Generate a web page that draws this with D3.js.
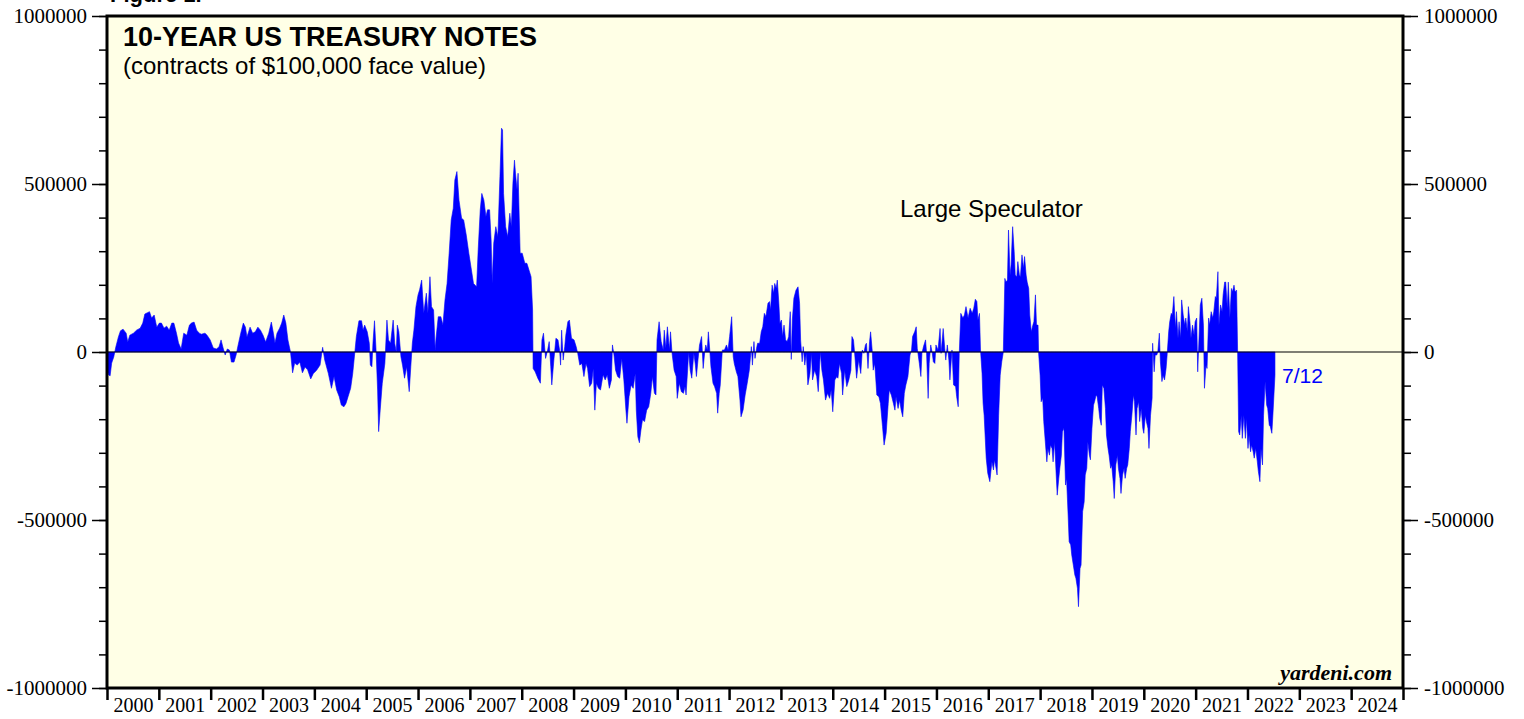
<!DOCTYPE html>
<html>
<head>
<meta charset="utf-8" />
<script src="https://d3js.org/d3.v7.min.js"></script>
<style>
  body { margin: 0; background: #ffffff; }
  svg { display: block; }
  .ylab { font: 21px "Liberation Serif", "Times New Roman", serif; fill: #000; }
  .xlab { font: 20px "Liberation Serif", "Times New Roman", serif; fill: #000; }
</style>
</head>
<body>
<svg id="chart" width="1524" height="719"></svg>
<script>
var dates = [
  2000.01,2000.03,2000.06,2000.09,2000.13,2000.17,2000.22,2000.26,2000.31,2000.37,2000.40,2000.44,2000.51,2000.57,2000.64,2000.69,2000.73,2000.78,2000.82,2000.86,2000.91,2000.96,
  2001.01,2001.05,2001.10,2001.15,2001.20,2001.25,2001.29,2001.34,2001.38,2001.43,2001.48,2001.54,2001.59,2001.63,2001.68,2001.73,2001.78,2001.82,2001.89,2001.93,2001.99,
  2002.05,2002.11,2002.16,2002.20,2002.24,2002.28,2002.32,2002.36,2002.40,2002.45,2002.49,2002.53,2002.58,2002.63,2002.67,2002.70,2002.76,2002.81,2002.86,2002.91,2002.96,
  2003.01,2003.06,2003.12,2003.17,2003.21,2003.24,2003.28,2003.33,2003.37,2003.41,2003.45,2003.49,2003.54,2003.58,2003.62,2003.67,2003.72,2003.77,2003.82,2003.87,2003.93,2003.98,2004.04,
  2004.11,2004.16,2004.20,2004.27,2004.33,2004.38,2004.43,2004.48,2004.52,2004.57,2004.61,2004.65,2004.70,2004.74,2004.78,2004.81,2004.86,2004.91,2004.94,2004.97,
  2005.02,2005.06,2005.08,2005.11,2005.13,2005.16,2005.19,2005.22,2005.24,2005.27,2005.31,2005.36,2005.40,2005.43,2005.47,2005.52,2005.55,2005.58,2005.60,2005.63,2005.67,2005.70,2005.74,2005.78,2005.83,2005.86,2005.89,2005.92,2005.96,
  2006.00,2006.03,2006.07,2006.11,2006.16,2006.19,2006.23,2006.26,2006.30,2006.33,2006.35,2006.39,2006.44,2006.48,2006.52,2006.56,2006.60,2006.64,2006.68,2006.71,2006.75,2006.79,2006.84,2006.88,2006.93,2006.98,
  2007.03,2007.07,2007.13,2007.16,2007.20,2007.23,2007.27,2007.31,2007.34,2007.38,2007.41,2007.43,2007.46,2007.50,2007.54,2007.58,2007.61,2007.63,2007.65,2007.69,2007.73,2007.77,2007.80,2007.83,2007.86,2007.88,2007.91,2007.93,2007.97,
  2008.01,2008.06,2008.10,2008.14,2008.18,2008.21,
  2008.22,2008.26,2008.31,2008.36,2008.39,2008.42,2008.46,2008.50,2008.53,2008.56,2008.58,2008.62,2008.66,2008.70,2008.73,2008.75,2008.77,2008.80,2008.83,2008.85,2008.89,2008.92,2008.96,
  2009.01,2009.05,2009.08,2009.12,2009.16,2009.20,2009.24,2009.27,2009.31,2009.35,2009.38,2009.41,2009.44,2009.48,2009.52,2009.57,2009.61,2009.65,2009.69,2009.73,2009.75,2009.78,2009.81,2009.85,2009.89,2009.93,2009.97,
  2010.01,2010.03,2010.07,2010.11,2010.15,2010.19,2010.21,2010.24,2010.27,2010.30,2010.33,2010.37,2010.41,2010.45,2010.49,2010.52,2010.56,2010.59,2010.61,2010.65,2010.69,2010.73,2010.75,2010.78,2010.81,2010.85,2010.87,2010.90,2010.94,2010.98,
  2011.00,2011.04,2011.08,2011.12,2011.15,2011.17,2011.20,2011.22,2011.25,2011.28,2011.32,2011.35,2011.37,2011.40,2011.43,2011.47,2011.50,2011.53,2011.55,2011.58,2011.60,2011.63,2011.65,2011.69,2011.72,2011.76,2011.78,2011.81,2011.83,2011.87,2011.91,2011.95,2011.98,
  2012.01,2012.05,2012.08,2012.10,2012.14,2012.17,2012.21,2012.23,2012.27,2012.31,2012.35,2012.39,2012.43,2012.45,2012.48,2012.50,2012.53,2012.55,
  2012.59,2012.62,2012.65,2012.68,2012.71,2012.75,2012.78,2012.80,2012.83,2012.86,2012.88,2012.91,2012.93,2012.96,2012.98,
  2013.01,2013.03,2013.06,2013.09,2013.12,2013.15,2013.18,2013.20,2013.22,2013.25,2013.29,2013.33,2013.36,2013.38,2013.41,2013.43,2013.46,2013.49,2013.52,2013.56,2013.59,2013.61,2013.65,2013.69,2013.72,2013.76,2013.79,2013.82,2013.86,2013.90,2013.94,2013.97,
  2014.00,2014.04,2014.08,2014.10,2014.13,2014.17,2014.19,2014.23,2014.27,2014.31,2014.35,2014.37,2014.40,2014.42,2014.46,2014.50,2014.54,2014.57,2014.60,2014.63,2014.65,2014.68,2014.71,2014.73,2014.76,2014.78,2014.81,2014.85,2014.89,2014.92,2014.96,2014.99,
  2015.03,2015.07,2015.09,2015.13,2015.17,2015.20,2015.22,2015.26,2015.29,2015.32,2015.35,2015.38,2015.41,2015.45,2015.49,2015.52,2015.54,2015.58,2015.61,2015.63,2015.67,2015.70,2015.72,2015.75,2015.79,2015.81,2015.84,2015.86,2015.89,2015.92,2015.94,2015.97,2015.99,
  2016.03,2016.07,2016.09,2016.13,2016.16,2016.18,2016.21,2016.24,2016.26,2016.30,2016.33,2016.37,2016.39,2016.42,2016.44,2016.47,2016.51,2016.54,2016.57,2016.61,2016.65,2016.69,2016.72,2016.75,2016.78,2016.80,2016.83,2016.85,2016.88,2016.90,
  2016.92,2016.96,2016.99,2017.03,2017.07,2017.10,2017.12,2017.15,2017.17,2017.20,2017.23,2017.26,2017.29,2017.32,2017.34,2017.37,2017.39,2017.42,2017.44,2017.47,2017.50,2017.52,2017.55,2017.57,2017.60,2017.62,2017.65,2017.68,2017.70,2017.73,2017.75,2017.78,2017.80,2017.83,2017.86,2017.88,2017.91,2017.93,2017.96,2017.97,
  2018.00,2018.02,2018.05,2018.07,2018.10,2018.13,2018.15,2018.18,2018.20,2018.23,2018.25,2018.28,2018.31,2018.33,2018.36,2018.38,2018.41,2018.43,2018.46,2018.49,2018.51,2018.54,2018.56,2018.59,2018.61,2018.64,2018.67,2018.69,2018.72,2018.74,2018.77,2018.79,2018.82,2018.85,2018.87,2018.90,2018.92,2018.95,2018.97,
  2019.00,2019.03,2019.05,2019.08,2019.10,2019.13,2019.15,2019.18,2019.20,2019.23,2019.26,2019.28,2019.31,2019.33,2019.36,2019.38,2019.41,2019.43,2019.46,2019.49,2019.51,2019.54,2019.56,2019.59,2019.62,2019.64,2019.67,2019.69,2019.72,2019.74,2019.77,2019.80,2019.82,2019.85,2019.87,2019.90,2019.92,2019.95,2019.98,
  2020.00,2020.03,2020.05,2020.08,2020.10,2020.13,2020.16,2020.17,2020.20,2020.22,2020.25,2020.27,2020.30,2020.32,2020.35,2020.37,2020.40,2020.43,2020.45,2020.48,2020.50,2020.53,2020.55,2020.58,2020.61,2020.63,2020.66,2020.68,2020.71,2020.73,2020.76,2020.79,2020.81,2020.84,2020.86,2020.89,2020.91,2020.94,2020.97,2020.99,
  2021.02,2021.04,2021.07,2021.09,2021.12,2021.15,2021.17,2021.20,2021.22,2021.25,2021.27,2021.30,2021.33,2021.35,2021.38,2021.40,2021.43,2021.45,2021.48,2021.51,2021.53,2021.56,2021.58,2021.61,2021.63,2021.66,2021.69,2021.71,2021.74,2021.76,2021.79,2021.81,2021.83,2021.85,2021.88,2021.90,2021.93,2021.96,2021.98,
  2022.01,2022.03,2022.06,2022.08,2022.11,2022.13,2022.16,2022.19,2022.21,2022.24,2022.26,2022.29,2022.31,2022.34,2022.37,2022.39,2022.42,2022.44,2022.47,2022.49,2022.53
];

// large speculator net position, thousands of contracts
var netK = [
  -55,-68,-71,-33,-15,15,45,63,68,56,30,50,56,65,71,86,113,117,120,101,110,74,
  86,86,71,77,65,86,86,56,27,9,56,50,80,86,89,65,56,53,56,50,36,
  12,9,15,36,12,-9,9,6,-30,-30,-9,21,56,86,74,45,74,56,60,74,65,
  50,30,56,89,56,27,56,71,86,110,86,36,0,-62,-33,-39,-30,-62,-45,-53,-80,-64,-55,
  -39,14,-24,-64,-108,-73,-113,-133,-158,-163,-153,-133,-108,-64,-2,46,93,93,65,80,
  60,26,-39,-44,26,93,6,-113,-237,-173,-93,-34,95,36,26,95,26,0,80,60,-14,-39,-78,-44,-118,-44,26,65,135,
  170,185,214,115,175,115,224,135,125,6,46,105,105,80,155,204,294,393,428,512,537,452,398,393,348,294,
  244,204,194,304,423,472,452,403,423,423,333,204,324,373,343,522,666,661,472,373,343,413,373,502,571,532,482,532,294,
  294,264,264,244,224,125,
  -49,-59,-78,-93,36,56,-19,6,31,-44,-98,-24,41,36,6,-39,65,-24,16,50,90,95,41,
  36,16,-4,-39,-34,-73,-34,-49,-103,-93,-49,-173,-93,-108,-113,-68,-83,-68,-108,-83,21,-9,-54,-73,-78,-19,-83,
  -173,-212,-133,-98,-108,-64,-173,-252,-270,-232,-202,-207,-173,-163,-123,-73,-123,-128,36,90,31,6,65,11,75,6,60,-4,-54,-73,
  -138,-93,-118,-123,-103,-128,-54,0,-54,-78,-4,-39,-73,-24,21,46,-49,0,21,6,60,0,-44,-93,-103,-123,-182,-123,-98,6,6,21,6,
  46,105,-14,-34,-59,-73,-143,-193,-173,-128,-93,-54,16,-39,31,-19,11,26,
  26,60,75,115,105,145,150,125,199,175,204,190,214,145,85,
  95,46,80,36,31,46,120,-22,95,160,184,194,145,36,-29,16,-39,-4,-98,-64,-4,-83,-54,-73,-118,0,-54,-83,-143,-123,-138,-113,
  -178,-83,-73,-78,-34,-64,-128,-54,-103,-83,-54,46,36,0,-78,-24,-64,6,-4,21,26,-49,31,60,6,-54,-34,-128,-133,-153,-222,-277,
  -242,-153,-113,-128,-153,-173,-133,-168,-143,-173,-193,-123,-98,-73,-9,6,46,60,75,11,-34,-73,-4,16,36,-4,-138,-34,21,-4,-29,-34,21,
  6,70,-4,70,11,-24,21,-24,-83,6,-98,-103,-133,-163,-4,115,101,110,135,101,130,115,130,157,150,95,115,6,-64,-153,
  -188,-316,-361,-386,-327,-351,-321,-346,-366,-188,-69,-29,0,219,208,214,363,229,259,373,298,229,224,269,229,224,289,249,284,229,208,189,110,60,80,90,170,80,80,0,
  -69,-148,-138,-207,-267,-327,-287,-307,-277,-287,-327,-267,-366,-426,-376,-346,-307,-237,-227,-396,-376,-485,-565,-574,-604,-634,-664,-673,-703,-758,-644,-634,-475,-446,-366,-346,-267,-307,-321,
  -227,-158,-148,-128,-133,-168,-197,-218,-98,-108,-168,-247,-287,-307,-346,-336,-386,-436,-336,-307,-346,-376,-421,-366,-346,-376,-346,-336,-287,-237,-188,-128,-148,-247,-168,-148,-207,-168,-227,
  -242,-188,-207,-227,-287,-188,-138,26,-59,-9,-9,0,56,-29,-88,-69,-83,-49,-9,60,90,115,110,165,70,120,41,90,41,155,110,80,101,60,135,90,41,80,50,90,
  101,-59,60,140,160,80,-108,-39,-49,101,80,120,101,120,165,160,239,80,140,120,170,208,208,130,208,101,189,179,199,179,184,0,-237,-247,-188,-257,-188,-257,-197,
  -287,-247,-297,-277,-297,-316,-287,-327,-356,-386,-287,-336,-188,-88,-158,-168,-218,-222,-242,-188,-69
];

var yTicks = [-1000000, -500000, 0, 500000, 1000000];
var yMinor = d3.range(-1000000, 1000001, 100000);
var yearTicks = d3.range(2000, 2026);
var yearLabels = d3.range(2000, 2025);

var svg = d3.select("#chart"),
  margin = { top: 16, right: 121, bottom: 31, left: 107 },
  W = +svg.attr("width"),
  H = +svg.attr("height");

var x = d3.scaleLinear().domain([2000, 2025]).range([margin.left, W - margin.right]);
var y = d3.scaleLinear().domain([-1000000, 1000000]).range([H - margin.bottom, margin.top]);

var data = dates.map(function (d, i) { return { t: d, v: netK[i] * 1000 }; });

// "Figure" header, cut at the top edge of the image as in the source
svg.append("text")
  .attr("x", 110).attr("y", 2)
  .style("font", "bold 22px 'Liberation Sans', Arial, sans-serif")
  .text("Figure 1.");

// plot background
svg.append("rect")
  .attr("x", x(2000)).attr("y", y(1000000))
  .attr("width", x(2025) - x(2000)).attr("height", y(-1000000) - y(1000000))
  .attr("fill", "#ffffe6");

// area
var area = d3.area()
  .x(function (d) { return x(d.t); })
  .y0(y(0))
  .y1(function (d) { return y(d.v); });

svg.append("path")
  .datum(data)
  .attr("fill", "#0000ff")
  .attr("stroke", "#0000ff")
  .attr("stroke-width", 0.6)
  .attr("d", area);

// zero line
svg.append("line")
  .attr("x1", x(2000)).attr("x2", x(2025))
  .attr("y1", y(0)).attr("y2", y(0))
  .attr("stroke", "#000").attr("stroke-width", 1.2);

var fmt = function (d) { return String(d); };

// left axis
var gL = svg.append("g").attr("transform", "translate(" + x(2000) + ",0)");
gL.call(d3.axisLeft(y).tickValues(yMinor).tickSize(8).tickFormat(""));
gL.select(".domain").remove();
var gL2 = svg.append("g").attr("transform", "translate(" + x(2000) + ",0)");
gL2.call(d3.axisLeft(y).tickValues(yTicks).tickSize(15).tickPadding(5).tickFormat(fmt));
gL2.select(".domain").remove();

// right axis
var gR = svg.append("g").attr("transform", "translate(" + x(2025) + ",0)");
gR.call(d3.axisRight(y).tickValues(yMinor).tickSize(8).tickFormat(""));
gR.select(".domain").remove();
var gR2 = svg.append("g").attr("transform", "translate(" + x(2025) + ",0)");
gR2.call(d3.axisRight(y).tickValues(yTicks).tickSize(15).tickPadding(6).tickFormat(fmt));
gR2.select(".domain").remove();

svg.selectAll("g text").attr("class", "ylab").style("font", null);
svg.selectAll("g line").attr("stroke-width", 1.5);

// bottom axis: year ticks and centred year labels
var gB = svg.append("g").attr("transform", "translate(0," + y(-1000000) + ")");
gB.call(d3.axisBottom(x).tickValues(yearTicks).tickSize(12).tickFormat(""));
gB.select(".domain").remove();
gB.selectAll("line").attr("stroke-width", 2.5);
var gB2 = svg.append("g").attr("transform", "translate(0," + y(-1000000) + ")");
gB2.call(d3.axisBottom(x).tickValues(yearLabels.map(function (d) { return d + 0.5; }))
  .tickSize(0).tickPadding(10).tickFormat(function (d) { return Math.floor(d); }));
gB2.select(".domain").remove();
gB2.selectAll("text").attr("class", "xlab").style("font", null);

// frame
svg.append("rect")
  .attr("x", x(2000)).attr("y", y(1000000))
  .attr("width", x(2025) - x(2000)).attr("height", y(-1000000) - y(1000000))
  .attr("fill", "none").attr("stroke", "#000").attr("stroke-width", 3);

// titles and notes
svg.append("text").attr("x", 123).attr("y", 46)
  .style("font", "bold 27px 'Liberation Sans', Arial, sans-serif")
  .text("10-YEAR US TREASURY NOTES");
svg.append("text").attr("x", 123).attr("y", 74)
  .style("font", "24px 'Liberation Sans', Arial, sans-serif")
  .text("(contracts of $100,000 face value)");
svg.append("text").attr("x", 900).attr("y", 217)
  .style("font", "24px 'Liberation Sans', Arial, sans-serif")
  .text("Large Speculator");
svg.append("text").attr("x", 1282).attr("y", 383)
  .style("font", "21px 'Liberation Sans', Arial, sans-serif")
  .attr("fill", "#0000ff")
  .text("7/12");
svg.append("text").attr("x", 1392).attr("y", 680)
  .attr("text-anchor", "end")
  .style("font", "italic bold 22px 'Liberation Serif', 'Times New Roman', serif")
  .text("yardeni.com");
</script>
</body>
</html>
